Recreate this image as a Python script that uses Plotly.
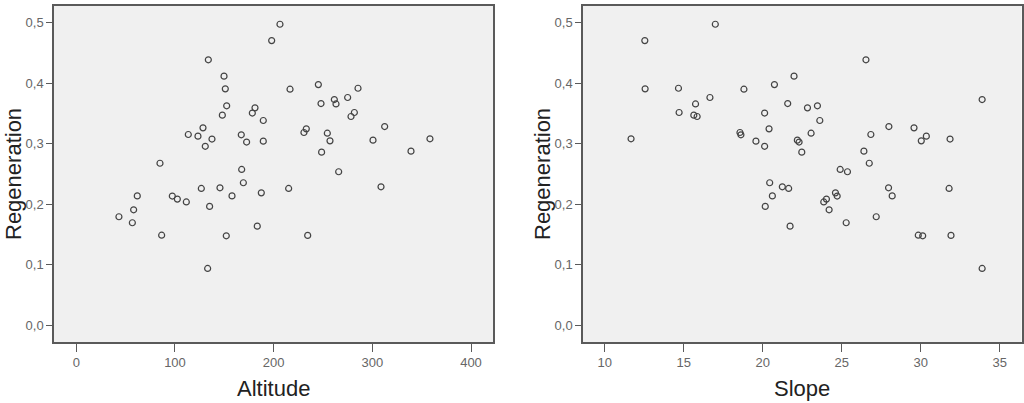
import plotly.graph_objects as go

regeneration = [0.1795, 0.1696, 0.191, 0.214, 0.268, 0.149, 0.2137, 0.2087, 0.204, 0.3155,
                0.3128, 0.2263, 0.3265, 0.296, 0.094, 0.439, 0.1966, 0.308, 0.2274, 0.3475,
                0.412, 0.391, 0.148, 0.363, 0.214, 0.315, 0.2577, 0.2357, 0.303, 0.351,
                0.3596, 0.164, 0.219, 0.3387, 0.3045, 0.4708, 0.4978, 0.2263, 0.3904, 0.3188,
                0.3249, 0.1487, 0.398, 0.3667, 0.2863, 0.3177, 0.305, 0.3733, 0.366, 0.2539,
                0.3767, 0.3453, 0.3519, 0.392, 0.3062, 0.229, 0.3287, 0.288, 0.3084]

altitude = [43.2, 56.8, 58.1, 61.8, 84.8, 86.5, 97.3, 102.4, 111.5, 113.5,
            123.3, 126.7, 128.4, 130.7, 133.1, 133.8, 135.1, 137.5, 145.6, 148.0,
            149.7, 151.0, 152.0, 152.4, 157.8, 167.2, 167.6, 169.3, 172.6, 178.4,
            181.1, 183.4, 187.5, 189.5, 189.5, 198.0, 206.4, 215.2, 216.6, 230.7,
            233.1, 234.5, 245.3, 248.0, 248.6, 254.4, 257.1, 261.5, 263.2, 265.9,
            275.0, 278.4, 281.8, 285.5, 300.7, 308.8, 312.5, 339.2, 358.4]

slope = [27.18, 25.28, 24.20, 20.61, 26.74, 29.84, 24.71, 24.03, 23.86, 26.84,
         30.35, 31.79, 29.57, 20.12, 33.88, 26.53, 20.16, 31.85, 27.96, 15.64,
         21.98, 12.56, 30.12, 23.46, 28.19, 18.62, 24.90, 20.44, 22.30, 20.12,
         22.83, 21.73, 24.60, 23.61, 19.57, 12.54, 17.00, 21.64, 18.81, 18.56,
         20.40, 31.91, 20.74, 21.58, 22.47, 23.06, 30.03, 33.88, 15.75, 25.36,
         16.66, 15.85, 14.71, 14.67, 22.19, 21.24, 27.98, 26.40, 11.67]

y_ticks = [0.0, 0.1, 0.2, 0.3, 0.4, 0.5]
alt_ticks = [0, 100, 200, 300, 400]
slope_ticks = [10, 15, 20, 25, 30, 35]

W, H = 1024, 403
marker = dict(symbol="circle-open", size=6, color="#444444", line=dict(width=1.2, color="#444444"))

fig = go.Figure()
fig.add_trace(go.Scatter(x=altitude, y=regeneration, mode="markers", marker=marker,
                         xaxis="x", yaxis="y", showlegend=False))
fig.add_trace(go.Scatter(x=slope, y=regeneration, mode="markers", marker=marker,
                         xaxis="x2", yaxis="y2", showlegend=False))

y_dom = [1 - 342 / H, 1 - 6 / H]
tickfont = dict(family="Liberation Sans, Arial, sans-serif", size=13, color="#666666")
common_axis = dict(showline=True, mirror=True, linecolor="#5a5a5a", linewidth=1.5,
                   showgrid=False, zeroline=False, ticks="outside", tickcolor="#5a5a5a",
                   tickwidth=1.3, tickfont=tickfont, fixedrange=True)

fig.update_layout(
    width=W, height=H,
    margin=dict(l=0, r=0, t=0, b=0),
    paper_bgcolor="white",
    plot_bgcolor="#f0f0f0",
    separators=",.",
    xaxis=dict(domain=[54 / W, 493 / W], range=[-22.6, 422.3], tickvals=alt_ticks,
               ticklen=8, anchor="y", **common_axis),
    yaxis=dict(domain=y_dom, range=[-0.0276, 0.528], tickvals=y_ticks, tickformat=".1f",
               ticklen=6, anchor="x", **common_axis),
    xaxis2=dict(domain=[583 / W, 1021.5 / W], range=[8.63, 36.37], tickvals=slope_ticks,
                ticklen=8, anchor="y2", **common_axis),
    yaxis2=dict(domain=y_dom, range=[-0.0276, 0.528], tickvals=y_ticks, tickformat=".1f",
                ticklen=6, anchor="x2", **common_axis),
)

titlefont = dict(family="Liberation Sans, Arial, sans-serif", size=22, color="#222222")
annots = [
    dict(text="Altitude", x=(54 + 493) / 2 / W, y=1 - 388 / H, xref="paper", yref="paper",
         showarrow=False, font=titlefont, xanchor="center", yanchor="middle"),
    dict(text="Slope", x=(583 + 1021.5) / 2 / W, y=1 - 388 / H, xref="paper", yref="paper",
         showarrow=False, font=titlefont, xanchor="center", yanchor="middle"),
    dict(text="Regeneration", x=13 / W, y=1 - 174 / H, xref="paper", yref="paper",
         showarrow=False, font=titlefont, textangle=-90, xanchor="center", yanchor="middle"),
    dict(text="Regeneration", x=542 / W, y=1 - 174 / H, xref="paper", yref="paper",
         showarrow=False, font=titlefont, textangle=-90, xanchor="center", yanchor="middle"),
]
fig.update_layout(annotations=annots)

fig.write_html("out.html",
               config={"displayModeBar": False},
               post_script="document.body.style.margin='0';document.body.style.padding='0';"
                           "document.body.style.overflow='hidden';")
